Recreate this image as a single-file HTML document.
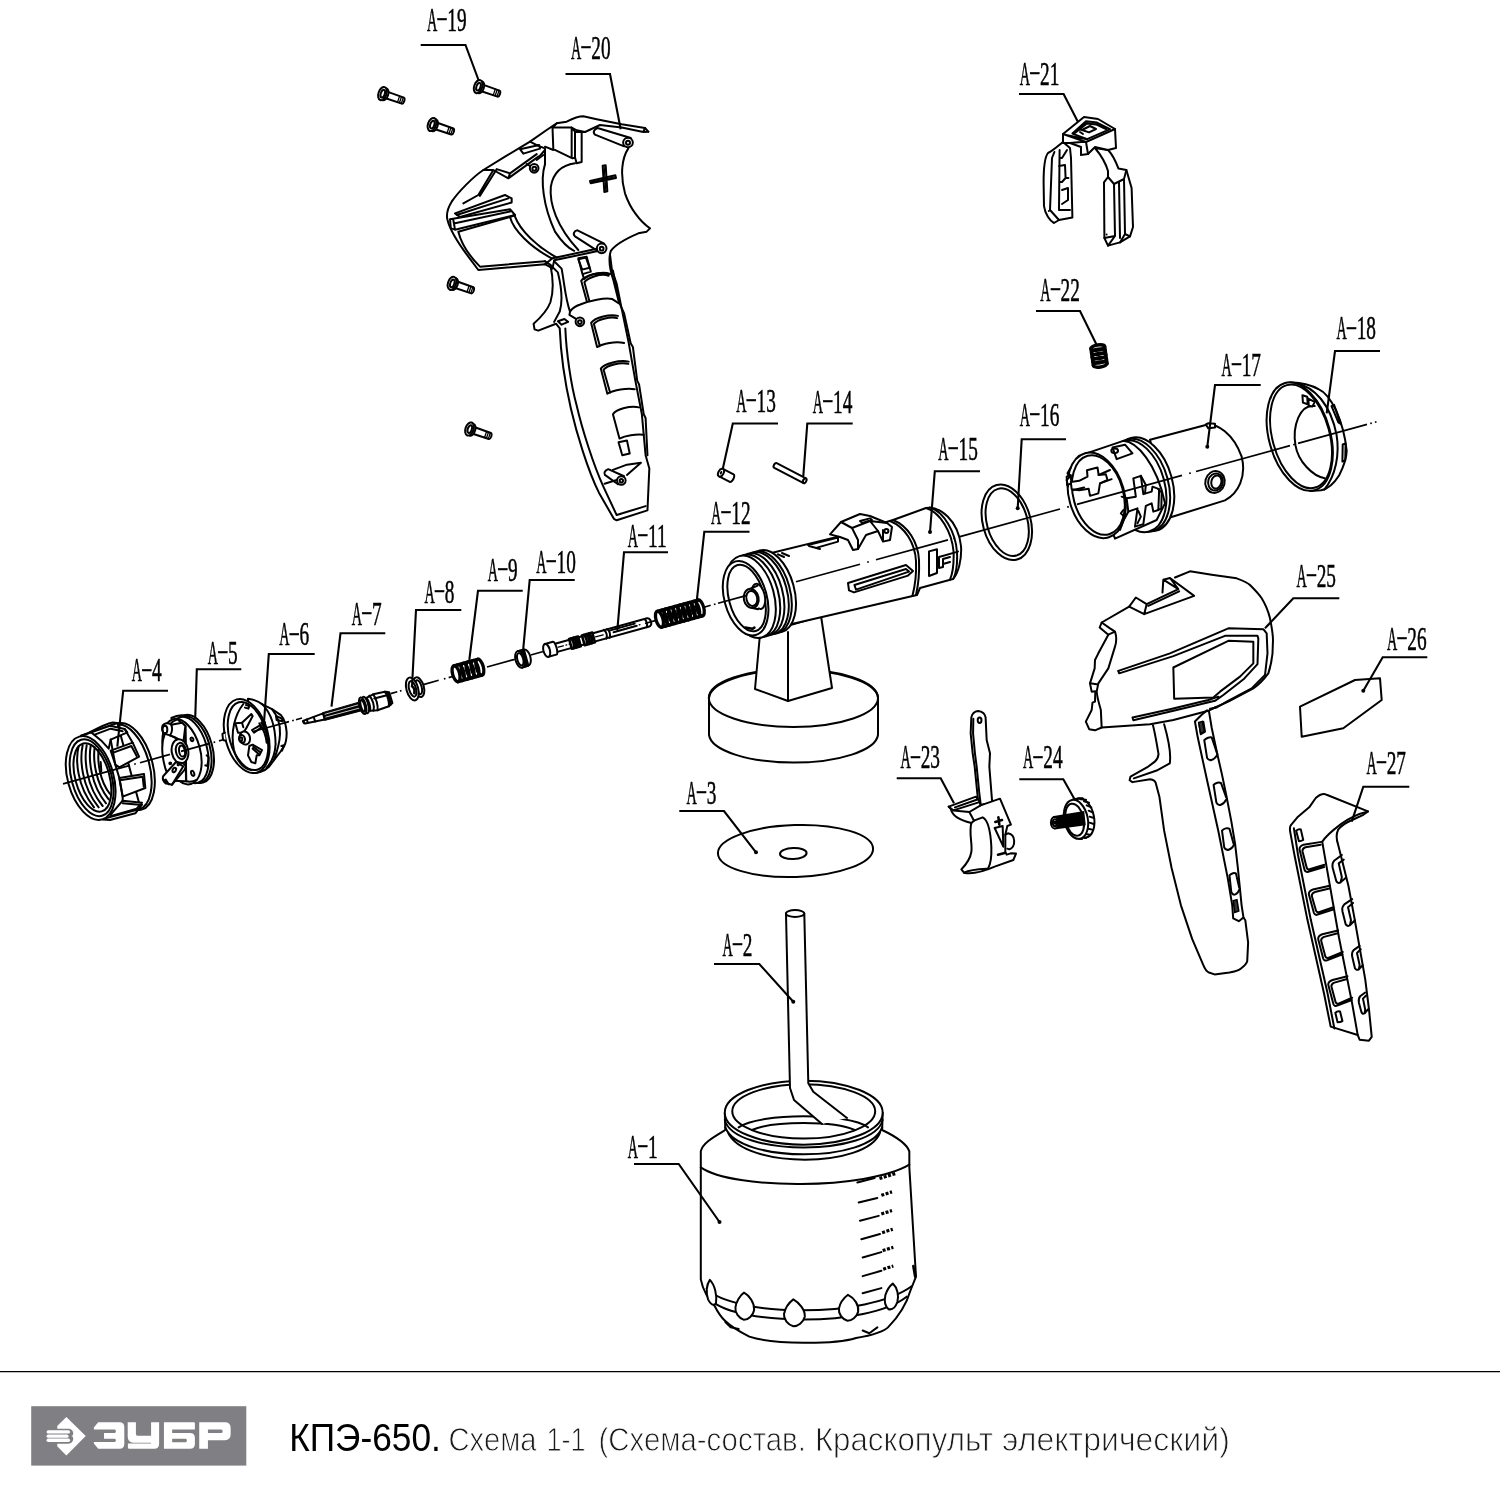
<!DOCTYPE html>
<html><head><meta charset="utf-8"><title>КПЭ-650 Схема 1-1</title>
<style>
html,body{margin:0;padding:0;background:#fff;}
body{width:1500px;height:1500px;overflow:hidden;position:relative;font-family:"Liberation Sans",sans-serif;}
svg{position:absolute;left:0;top:0;display:block;will-change:transform}
.lb{font-family:"Liberation Serif",serif;font-size:33px;fill:#000;stroke:#000;stroke-width:0.55px}
.ld{fill:none;stroke:#000;stroke-width:2.1;stroke-linejoin:miter}
.p{fill:none;stroke:#000;stroke-width:2;stroke-linecap:round;stroke-linejoin:round;vector-effect:non-scaling-stroke}
.pw{fill:#fff;stroke:#000;stroke-width:2;stroke-linecap:round;stroke-linejoin:round;vector-effect:non-scaling-stroke}
.t{fill:none;stroke:#000;stroke-width:1.3;stroke-linecap:round;stroke-linejoin:round;vector-effect:non-scaling-stroke}
.tw{fill:#fff;stroke:#000;stroke-width:1.3;stroke-linecap:round;stroke-linejoin:round;vector-effect:non-scaling-stroke}
.h{fill:none;stroke:#000;stroke-width:2.6;stroke-linecap:round;stroke-linejoin:round;vector-effect:non-scaling-stroke}
.hw{fill:#fff;stroke:#000;stroke-width:2.6;stroke-linecap:round;stroke-linejoin:round;vector-effect:non-scaling-stroke}
.hh{fill:none;stroke:#000;stroke-width:3.3;stroke-linecap:round;stroke-linejoin:round;vector-effect:non-scaling-stroke}
.hhw{fill:#fff;stroke:#000;stroke-width:3.3;stroke-linecap:round;stroke-linejoin:round;vector-effect:non-scaling-stroke}
.ax{fill:none;stroke:#000;stroke-width:1.6;stroke-dasharray:34 4 3 4}
.ft1{font-family:"Liberation Sans",sans-serif;font-size:38.5px;fill:#000}
.ft2{font-family:"Liberation Sans",sans-serif;font-size:34px;fill:#1a1a1a;stroke:#fff;stroke-width:0.9px}
</style></head><body>
<svg width="1500" height="1500" viewBox="0 0 1500 1500">
<rect x="0" y="0" width="1500" height="1500" fill="#fff"/>
<!-- PARTS -->
<!-- 03_02_01.svg -->
<!-- A-3 disc -->
<ellipse class="pw" cx="795.5" cy="851" rx="77.6" ry="26" transform="rotate(-1.8 795.5 851)"/>
<ellipse class="p" cx="793.3" cy="853.5" rx="13.3" ry="5.6" transform="rotate(-1.8 793.3 853.5)"/>
<!-- A-1 jar -->
<g transform="translate(600,1050) scale(0.2666667)">
 <path class="pw" d="M468,235 L470,300 C420,330 385,350 378,380 L378,860 C385,900 410,940 430,960 C450,1000 470,1030 560,1075 C650,1105 880,1105 960,1080 C1030,1070 1070,1050 1080,1040 C1120,1000 1150,950 1165,900 L1185,850 L1160,440 L1160,380 C1150,350 1100,320 1058,300 L1060,235 Z"/>
 <path class="p" d="M378,440 C500,525 1000,525 1160,430"/>
 <!-- threads -->
 <path class="p" d="M468,262 C500,400 1030,400 1060,262 M470,290 C520,425 1010,425 1058,290 M480,310 C540,445 1000,445 1050,310"/>
 <path class="pw" d="M468,235 A296,120 0 0 0 1060,235 A296,120 0 0 0 468,235 Z"/>
 <ellipse class="p" cx="764" cy="230" rx="268" ry="102"/>
 <path class="p" d="M520,290 C600,235 930,235 1005,290 M570,300 C650,265 880,265 955,300"/>
 <!-- bottom bands -->
 <path class="p" d="M400,895 C500,1000 1000,1010 1170,885 M418,940 C520,1032 1000,1042 1150,925"/>
 <path class="p" d="M470,1020 L490,1040 L520,1046 M985,1052 L1010,1062 L1040,1040"/>
 <!-- diamonds -->
 <path class="pw" d="M412,862 C430,880 440,920 435,950 C425,960 415,955 405,935 C398,910 400,880 412,862 Z"/>
 <path class="pw" d="M540,910 C560,920 580,950 578,975 C575,995 555,1012 540,1012 C520,1005 505,985 508,965 C510,945 525,920 540,910 Z"/>
 <path class="pw" d="M725,935 C748,948 770,975 768,1000 C762,1022 742,1036 725,1036 C705,1030 688,1010 690,990 C694,968 708,948 725,935 Z"/>
 <path class="pw" d="M930,918 C955,930 972,958 968,982 C962,1002 945,1015 928,1015 C908,1010 894,990 896,970 C900,948 914,930 930,918 Z"/>
 <path class="pw" d="M1098,876 C1115,892 1122,920 1115,945 C1108,965 1095,975 1082,972 C1070,962 1066,940 1070,920 C1076,900 1086,885 1098,876 Z"/>
 <!-- scale -->
 <path class="p" d="M965,497 L1030,480 M970,572 L1040,555 M975,640 L1045,622 M980,710 L1050,690 M985,778 L1055,758 M985,848 L1055,828 M985,912 L1055,893"/>
 <path d="M1048,482 L1112,462 M1055,545 L1095,532 M1055,615 L1095,602 M1058,685 L1098,672 M1060,752 L1100,740 M1062,822 L1100,810" stroke="#000" stroke-width="3.2" stroke-dasharray="3 1.5" fill="none" vector-effect="non-scaling-stroke"/>
 <path class="h" d="M1175,810 L1182,850"/>
</g>
<!-- A-2 tube -->
<path d="M786,914 L790,1088 L794,1100 L822,1124 L847,1118 L813.3,1091.7 L808.3,1083.3 L804.3,914 Z" fill="#fff"/><path class="p" d="M786,914 L790,1088 L794,1100 L822,1124 M847,1118 L813.3,1091.7 L808.3,1083.3 L804.3,914"/>
<ellipse class="pw" cx="795.1" cy="913.5" rx="9.2" ry="3.4"/>
<!-- 04_nut.svg -->
<g transform="translate(50,690) scale(0.133333)">
 <!-- back rim -->
 <ellipse class="pw" cx="598" cy="574" rx="172" ry="335" transform="rotate(-15.4 598 574)"/>
 <ellipse class="p" cx="580" cy="579" rx="166" ry="328" transform="rotate(-15.4 580 579)"/>
 <!-- body -->
 <path class="pw" d="M232,345 L505,248 L680,890 L395,968 Z" stroke="none"/>
 <path class="p" d="M232,343 L290,322 C330,300 420,250 470,243 L520,250"/>
 <path class="p" d="M395,972 L450,975 L640,925 L690,860"/>
 <!-- front face -->
 <ellipse class="pw" cx="305" cy="660" rx="172" ry="322" transform="rotate(-15.4 305 660)"/>
 <ellipse class="p" cx="312" cy="658" rx="150" ry="296" transform="rotate(-15.4 312 658)"/>
 <ellipse class="p" cx="318" cy="656" rx="128" ry="264" transform="rotate(-15.4 318 656)"/>
 <!-- threads -->
 <path class="p" d="M215,420 C190,520 200,720 330,880"/>
 <path class="p" d="M245,415 C222,520 235,720 365,880"/>
 <path class="p" d="M275,415 C255,520 270,720 395,870"/>
 <path class="p" d="M305,420 C288,520 305,710 420,850"/>
 <path class="p" d="M335,430 C322,520 340,700 440,820"/>
 <path class="p" d="M365,450 C355,530 370,680 450,780"/>
 <path class="p" d="M380,540 L385,610"/>
 <!-- grooves / ribs on side -->
 <path class="pw" d="M310,318 L450,268 L560,292 L580,318 L455,372 L440,440 L390,385 Z"/>
 <path class="p" d="M335,335 L455,290 L545,310"/>
 <path class="pw" d="M455,455 L620,395 L668,500 L520,580 L490,560 Z"/>
 <path class="p" d="M475,470 L610,420 L650,495"/>
 <path class="pw" d="M520,660 L705,630 L715,735 L545,800 Z"/>
 <path class="p" d="M535,675 L695,650 L703,725"/>
 <path class="pw" d="M545,830 L690,845 L650,890 L460,945 L455,935 Z"/>
 <path class="p" d="M545,850 L670,860"/>
 <path class="p" d="M455,372 L490,560 L520,660 L545,800 L545,830"/>
 <path class="p" d="M620,395 L560,292"/>
</g>
<!-- 05_aircap.svg -->
<g transform="translate(150,670) scale(0.133333)">
 <!-- back rim -->
 <ellipse class="pw" cx="328" cy="592" rx="140" ry="262" transform="rotate(-15.4 328 592)"/>
 <ellipse class="p" cx="312" cy="596" rx="138" ry="258" transform="rotate(-15.4 312 596)"/>
 <ellipse class="pw" cx="292" cy="600" rx="136" ry="255" transform="rotate(-15.4 292 600)"/>
 <path class="p" d="M425,640 L440,655 L430,720 L415,715"/>
 <!-- front face -->
 <ellipse class="pw" cx="240" cy="612" rx="136" ry="252" transform="rotate(-15.4 240 612)" stroke="none"/>
 <path class="pw" d="M205,370 C120,400 80,520 95,640 C105,720 130,790 160,830 L270,835 L265,420 Z"/>
 <path class="p" d="M265,420 L272,835"/>
 <path class="p" d="M160,360 C200,340 250,335 290,350"/>
 <path class="p" d="M272,835 C300,840 330,835 350,825"/>
 <!-- top horn -->
 <path class="pw" d="M95,415 C110,395 140,395 160,410 L240,395 L265,420 L250,545 C215,525 180,500 150,490 L110,478 C90,465 85,435 95,415 Z"/>
 <ellipse class="p" cx="112" cy="446" rx="18" ry="28"/>
 <path class="p" d="M160,410 C170,440 165,470 150,490"/>
 <path class="p" d="M150,490 C200,505 235,525 262,560"/>
 <!-- hub -->
 <ellipse class="pw" cx="225" cy="610" rx="62" ry="92" transform="rotate(-10 225 610)"/>
 <ellipse class="p" cx="232" cy="608" rx="38" ry="62" transform="rotate(-10 232 608)"/>
 <ellipse class="p" cx="240" cy="608" rx="22" ry="42" transform="rotate(-10 240 608)"/>
 <!-- bottom horn -->
 <path class="pw" d="M195,690 L250,700 L268,720 L262,745 L165,860 L120,850 C100,840 90,815 100,795 Z"/>
 <path class="p" d="M195,690 L250,722 L165,860"/>
 <path class="p" d="M120,850 L100,820 M140,857 L118,822" />
 <ellipse class="p" cx="182" cy="750" rx="12" ry="18" transform="rotate(30 182 750)"/>
 <circle class="p" cx="212" cy="710" r="5"/>
 <circle class="p" cx="152" cy="700" r="7"/>
 <!-- holes -->
 <ellipse class="p" cx="315" cy="520" rx="10" ry="14" transform="rotate(-20 315 520)"/>
 <ellipse class="p" cx="320" cy="775" rx="11" ry="20" transform="rotate(-20 320 775)"/>
</g>
<!-- 06_ring.svg -->
<g transform="translate(150,670) scale(0.133333)">
 <!-- rear body -->
 <path class="pw" d="M735,215 C790,222 820,240 843,258 L915,294 L982,339 C1005,365 1020,400 1025,470 C1025,520 1015,555 1005,573 L978,613 L892,726 C860,760 800,778 770,772 Z"/>
 <path class="p" d="M843,258 C905,320 940,430 942,555 C938,640 905,700 874,732"/>
 <path class="p" d="M915,294 C960,350 978,420 975,480 C972,560 950,620 930,672"/>
 <path class="p" d="M945,345 L990,365 L995,385 L950,375 Z"/>
 <path class="p" d="M985,570 L1005,565 L990,605"/>
 <!-- front ring -->
 <ellipse class="pw" cx="725" cy="495" rx="160" ry="285" transform="rotate(-15.4 725 495)"/>
 <ellipse class="p" cx="735" cy="495" rx="140" ry="262" transform="rotate(-15.4 735 495)"/>
 <path class="p" d="M700,255 C640,330 600,460 630,600 C650,680 700,740 760,750"/>
 <path class="p" d="M720,262 L745,270 L738,290 L712,282"/>
 <!-- tab left -->
 <path class="pw" d="M562,470 L543,480 L548,525 L568,530"/>
 <!-- vanes -->
 <path class="pw" d="M640,400 L690,395 L760,330 L770,345 L720,440 L700,470 L660,470 Z"/>
 <path class="p" d="M690,395 L700,430"/>
 <path class="pw" d="M765,450 L825,415 L835,430 L780,470 Z"/>
 <path class="pw" d="M745,570 L770,560 L840,600 L820,640 L800,640 L790,700 L760,690 L735,640 Z"/>
 <path class="p" d="M775,575 L825,615 M770,590 L815,630"/>
 <!-- inner arc right -->
 <path class="p" d="M820,400 C850,440 870,500 875,545 L890,535"/>
 <path class="p" d="M835,395 C865,440 885,500 888,540"/>
 <!-- hub -->
 <ellipse class="pw" cx="712" cy="510" rx="38" ry="50" transform="rotate(-15 712 510)"/>
 <ellipse class="pw" cx="690" cy="517" rx="22" ry="30" transform="rotate(-15 690 517)"/>
 <ellipse class="p" cx="682" cy="519" rx="10" ry="15" fill="#111"/>
</g>
<!-- 07_nozzle.svg -->
<g transform="translate(280,620) scale(0.133333)">
 <g transform="translate(175,766) rotate(-15.4)">
  <!-- tip -->
  <path class="pw" d="M0,-10 L160,-24 L160,24 L10,14 C0,12 -3,-5 0,-10 Z"/>
  <path class="p" d="M30,-12 L32,15 M85,-17 L87,19"/>
  <ellipse cx="6" cy="2" rx="7" ry="11" fill="#000"/>
  <!-- dark shaft -->
  <path d="M158,-30 L455,-34 L455,34 L158,30 Z" fill="#000" stroke="#000" stroke-width="1" vector-effect="non-scaling-stroke"/>
  <path d="M170,-14 L450,-16 M170,8 L450,10" stroke="#fff" stroke-width="0.8" fill="none" vector-effect="non-scaling-stroke"/>
  <!-- flange -->
  <ellipse class="pw" cx="482" cy="0" rx="24" ry="64"/>
  <ellipse class="pw" cx="462" cy="0" rx="24" ry="64"/>
  <ellipse class="p" cx="462" cy="0" rx="14" ry="46"/>
  <!-- nut -->
  <path class="pw" d="M505,-50 L560,-62 L650,-58 L680,-46 L682,40 L650,56 L560,62 L505,50 Z"/>
  <path class="p" d="M530,-60 C548,-30 548,30 530,58 M560,-62 C575,-30 575,30 560,62"/>
  <path class="p" d="M505,-50 C518,-25 518,25 505,50"/>
  <path class="p" d="M650,-58 C662,-30 662,30 650,56 M665,-52 C675,-25 675,25 665,48"/>
  <path class="p" d="M560,-30 L650,-28"/>
 </g>
</g>
<!-- 08_washer.svg -->
<g transform="translate(280,620) scale(0.133333)">
 <g transform="translate(1000,515) rotate(-15.4)">
  <ellipse class="pw" cx="42" cy="0" rx="38" ry="76"/>
  <ellipse class="p" cx="42" cy="0" rx="22" ry="54"/>
  <ellipse class="pw" cx="-8" cy="0" rx="44" ry="88"/>
  <ellipse class="p" cx="-6" cy="0" rx="26" ry="60"/>
  <path d="M-5,-20 C8,-5 8,15 -2,35" class="h"/>
 </g>
</g>
<!-- 09_spring.svg -->
<g transform="translate(440,560) scale(0.133333)">
 <g transform="translate(212,828) rotate(-15.4)">
  <path class="pw" d="M-100,-62 L100,-62 L100,62 L-100,62 Z" stroke="none"/>
  <ellipse class="hhw" cx="90" cy="0" rx="26" ry="62"/>
  <ellipse class="hh" cx="52" cy="0" rx="26" ry="62"/>
  <ellipse class="hh" cx="14" cy="0" rx="26" ry="62"/>
  <ellipse class="hh" cx="-24" cy="0" rx="26" ry="62"/>
  <ellipse class="hh" cx="-62" cy="0" rx="26" ry="62"/>
  <ellipse class="hhw" cx="-95" cy="0" rx="26" ry="62"/>
  <path class="hh" d="M-95,-62 L90,-62 M-95,62 L90,62"/>
 </g>
</g>
<!-- 10_bushing.svg -->
<g transform="translate(440,560) scale(0.133333)">
 <g transform="translate(600,745) rotate(-15.4)">
  <ellipse class="pw" cx="48" cy="0" rx="32" ry="62"/>
  <path class="pw" d="M0,-64 L48,-62 L48,62 L0,64 Z" stroke="none"/>
  <path class="p" d="M0,-64 L48,-62 M0,64 L48,62"/>
  <ellipse class="pw" cx="0" cy="0" rx="34" ry="64"/>
  <ellipse class="p" cx="2" cy="0" rx="22" ry="48"/>
  <path class="p" d="M30,-60 C45,-30 45,30 30,60"/>
 </g>
</g>
<!-- 11_rod.svg -->
<g transform="translate(440,560) scale(0.133333)">
 <g transform="translate(800,678) rotate(-15.4)">
  <!-- rod -->
  <path class="pw" d="M60,-32 L790,-32 C800,-32 812,-20 812,0 C812,20 800,32 790,32 L60,32 Z"/>
  <!-- head -->
  <path class="pw" d="M0,-50 L62,-50 C82,-50 82,50 62,50 L0,50 Z"/>
  <ellipse class="pw" cx="0" cy="0" rx="24" ry="50"/>
  <!-- rings -->
  <path class="hw" d="M185,-38 L255,-38 L255,38 L185,38 Z"/>
  <path class="h" d="M200,-38 C212,-15 212,15 200,38 M220,-38 C232,-15 232,15 220,38 M240,-38 C252,-15 252,15 240,38"/>
  <path class="hw" d="M285,-38 L365,-38 L365,38 L285,38 Z"/>
  <path class="h" d="M300,-38 C312,-15 312,15 300,38 M320,-38 C332,-15 332,15 320,38 M340,-38 C352,-15 352,15 340,38"/>
  <!-- sleeve -->
  <path class="p" d="M455,-34 C470,-15 470,15 455,34 M480,-34 C495,-15 495,15 480,34"/>
  <path class="p" d="M500,-18 L690,-18 M520,2 L700,2"/>
  <path class="p" d="M770,-32 C782,-15 782,15 770,32"/>
  <!-- inner centerline -->
  <path class="t" d="M90,0 L130,0 M150,0 L156,0 M175,0 L185,0 M380,0 L440,0 M560,0 L690,0 M720,0 L726,0" />
 </g>
</g>
<!-- 12_spring.svg -->
<g transform="translate(560,540) scale(0.133333)">
 <g transform="translate(900,552) rotate(-15.4)">
  <path class="pw" d="M-160,-62 L160,-62 L160,62 L-160,62 Z" stroke="none"/>
  <ellipse class="hhw" cx="158" cy="0" rx="26" ry="62"/>
  <ellipse class="hh" cx="122" cy="0" rx="26" ry="62"/>
  <ellipse class="hh" cx="86" cy="0" rx="26" ry="62"/>
  <ellipse class="hh" cx="50" cy="0" rx="26" ry="62"/>
  <ellipse class="hh" cx="14" cy="0" rx="26" ry="62"/>
  <ellipse class="hh" cx="-22" cy="0" rx="26" ry="62"/>
  <ellipse class="hh" cx="-58" cy="0" rx="26" ry="62"/>
  <ellipse class="hh" cx="-94" cy="0" rx="26" ry="62"/>
  <ellipse class="hh" cx="-130" cy="0" rx="26" ry="62"/>
  <ellipse class="hhw" cx="-160" cy="0" rx="26" ry="62"/>
  <path class="hh" d="M-160,-62 L158,-62 M-160,62 L158,62"/>
 </g>
</g>
<!-- 13_14_22.svg -->
<!-- A-13 -->
<g transform="translate(721,472.7) rotate(27)">
 <path class="pw" d="M0,-4.2 L12,-4.2 C14.5,-4.2 14.5,4.2 12,4.2 L0,4.2 Z"/>
 <ellipse class="pw" cx="0" cy="0" rx="2.6" ry="4.2"/>
 <ellipse cx="0" cy="0" rx="1" ry="1.8" fill="#000"/>
</g>
<!-- A-14 -->
<g transform="translate(775.5,465.5) rotate(27.5)">
 <path class="pw" d="M0,-2.6 L33,-2.6 C35,-2.6 35,2.6 33,2.6 L0,2.6 C-2.2,2.6 -2.2,-2.6 0,-2.6 Z"/>
 <path class="p" d="M32.5,-2.6 C31,-1 31,1 32.5,2.6"/>
</g>
<!-- A-22 -->
<g transform="translate(1099,356) rotate(-8)">
 <rect x="-7" y="-10.5" width="14" height="21" fill="#fff"/>
 <ellipse class="hh" cx="0" cy="-8.5" rx="7" ry="2.6"/>
 <ellipse class="hh" cx="0" cy="-4.3" rx="7" ry="2.6"/>
 <ellipse class="hh" cx="0" cy="0" rx="7" ry="2.6"/>
 <ellipse class="hh" cx="0" cy="4.3" rx="7" ry="2.6"/>
 <ellipse class="hh" cx="0" cy="8.5" rx="7" ry="2.6"/>
 <path class="hh" d="M-7,-8.5 L-7,8.5 M7,-8.5 L7,8.5"/>
</g>
<!-- 15_body.svg -->
<g transform="translate(700,480) scale(0.2)">
 <!-- base disc -->
 <path class="pw" d="M45,1090 L45,1275 A423,145 0 0 0 890,1275 L890,1085 A423,145 0 0 0 45,1090 Z"/>
 <ellipse class="p" cx="467" cy="1090" rx="423" ry="145"/>
 <!-- neck -->
 <path class="pw" d="M300,770 L275,1045 L440,1105 L660,1040 L605,680 Z"/>
 <path class="p" d="M440,760 L440,1105"/>
 <!-- main body -->
 <path class="pw" d="M352,366 L690,283 L965,200 L1130,140 C1200,130 1290,200 1305,330 C1310,400 1290,470 1265,495 L1100,540 L1085,575 L465,719 L420,700 Z"/>
 <!-- end rings right -->
 <path class="p" d="M1130,140 C1200,160 1260,260 1268,360 C1270,420 1262,470 1250,498"/>
 <path class="p" d="M1150,137 C1220,160 1278,260 1285,360 C1288,420 1280,465 1268,492"/>
 <!-- collar start arc -->
 <path class="p" d="M965,200 C1040,230 1090,310 1095,400 C1098,470 1088,540 1080,575"/>
 <path class="p" d="M950,205 C1025,235 1075,315 1080,405 C1083,470 1075,530 1062,580"/>
 <!-- collar details -->
 <path class="p" d="M1145,357 L1185,346 L1185,465 L1145,480 Z"/>
 <path class="p" d="M1195,385 L1290,358 M1195,385 L1195,440 L1215,435 L1215,395 L1250,385 M1215,420 L1250,410"/>
 <!-- side slot -->
 <path class="p" d="M740,515 L1030,425 L1065,455 L1040,478 L770,562 L745,552 Z"/>
 <path class="p" d="M772,525 L1030,445 L1045,458 L780,548 Z"/>
 <!-- top-left slot -->
 <path class="p" d="M540,325 L690,288 L690,308 L585,338 M545,330 L600,345"/>
 <path class="p" d="M390,372 L420,385 M410,365 L445,380"/>
 <!-- bracket -->
 <path class="pw" d="M650,272 L705,210 L800,170 L850,180 L935,215 L960,235 L950,300 L915,308 L890,255 L830,275 L790,345 L765,350 L740,300 L700,285 Z"/>
 <path class="p" d="M705,210 L760,240 L790,300 L790,345 M760,240 L850,205 L935,215 M850,205 L890,255"/>
 <path class="p" d="M800,205 L850,192 L860,200 L812,215 Z"/>
 <circle class="p" cx="932" cy="255" r="10"/>
 <path class="p" d="M915,250 L915,305"/>
 <!-- thread rings -->
 <ellipse class="pw" cx="354" cy="556" rx="117" ry="211" transform="rotate(-15.4 354 556)"/>
 <ellipse class="pw" cx="333" cy="562" rx="117" ry="211" transform="rotate(-15.4 333 562)"/>
 <ellipse class="pw" cx="318" cy="566" rx="117" ry="211" transform="rotate(-15.4 318 566)"/>
 <ellipse class="pw" cx="296" cy="572" rx="117" ry="211" transform="rotate(-15.4 296 572)"/>
 <ellipse class="pw" cx="275" cy="578" rx="117" ry="211" transform="rotate(-15.4 275 578)"/>
 <ellipse class="pw" cx="253" cy="584" rx="117" ry="211" transform="rotate(-15.4 253 584)"/>
 <!-- front lip -->
 <ellipse class="pw" cx="228" cy="591" rx="106" ry="191" transform="rotate(-15.4 228 591)"/>
 <ellipse class="p" cx="233" cy="590" rx="88" ry="171" transform="rotate(-15.4 233 590)"/>
 <path class="h" d="M226,738 L262,744 L272,738"/>
 <!-- nozzle -->
 <ellipse class="pw" cx="292" cy="582" rx="32" ry="64" transform="rotate(-12 292 582)"/>
 <path d="M257,540 L292,527 L292,640 L262,643 Z" fill="#fff"/>
 <path class="p" d="M250,545 L288,528 M262,640 L290,646"/>
 <ellipse class="pw" cx="256" cy="592" rx="37" ry="48" transform="rotate(-12 256 592)"/>
 <ellipse class="p" cx="259" cy="592" rx="27" ry="38" transform="rotate(-12 259 592)"/>
</g>
<!-- 16_oring.svg -->
<ellipse class="p" cx="1006.8" cy="522.3" rx="23.9" ry="38.6" transform="rotate(-15.4 1006.8 522.3)"/>
<ellipse class="p" cx="1007.2" cy="522.2" rx="20.3" ry="34.6" transform="rotate(-15.4 1007.2 522.2)"/>
<!-- 17_housing.svg -->
<g transform="translate(1050,370) scale(0.1666667)">
 <!-- rear cylinder -->
 <path class="pw" d="M600,418 L940,328 C1000,318 1100,380 1150,520 C1180,640 1130,740 1050,782 L720,885 Z"/>
 <path class="pw" d="M935,327 L948,320 L990,322 L990,345 L950,350 Z"/>
 <ellipse class="p" cx="990" cy="672" rx="58" ry="66" transform="rotate(15 990 672)"/>
 <ellipse class="p" cx="993" cy="672" rx="44" ry="52" transform="rotate(15 993 672)"/>
 <ellipse class="p" cx="998" cy="672" rx="30" ry="40" transform="rotate(15 998 672)"/>
 <!-- flange rings -->
 <ellipse class="pw" cx="562" cy="686" rx="173" ry="288" transform="rotate(-15.4 562 686)"/>
 <ellipse class="pw" cx="540" cy="692" rx="170" ry="285" transform="rotate(-15.4 540 692)"/>
 <ellipse class="pw" cx="520" cy="697" rx="168" ry="282" transform="rotate(-15.4 520 697)"/>
 <!-- front section -->
 <path class="pw" d="M205,505 L440,425 C520,430 640,560 690,800 L640,900 L390,1012 Z"/>
 <path class="p" d="M375,465 L450,448 L495,500 L400,535 Z"/>
 <ellipse class="p" cx="388" cy="485" rx="20" ry="14"/>
 <!-- front opening -->
 <ellipse class="pw" cx="280" cy="752" rx="166" ry="262" transform="rotate(-15.4 280 752)"/>
 <ellipse class="p" cx="290" cy="750" rx="150" ry="244" transform="rotate(-15.4 290 750)"/>
 <path class="pw" d="M100,640 L125,630 L128,680 L103,690 Z" stroke="none"/>
 <path class="p" d="M125,585 L105,620 L120,640 L100,660 L108,700"/>
 <!-- left cross -->
 <path class="pw" d="M125,672 L175,665 L225,640 L222,602 L285,585 L292,630 L335,625 L345,660 L300,680 L290,740 L240,755 L232,712 L175,722 L130,715 Z"/>
 <path class="p" d="M140,720 L205,705 M292,630 L360,600 M300,680 L370,655"/>
 <!-- right cross -->
 <path class="pw" d="M500,650 L545,635 L560,745 L610,730 L615,700 L655,715 L650,840 L620,850 L610,800 L575,815 L560,925 L510,940 L525,830 L470,850 L460,770 L515,760 Z"/>
 <path class="p" d="M545,635 L575,690 L570,740 M470,850 L440,905 L420,960 M460,770 L430,760 M440,840 L425,860 L445,880"/>
 <path class="p" d="M650,715 L670,735 L668,830 L650,840"/>
 <path class="p" d="M530,845 L545,880 L525,920"/>
</g>
<!-- 18_ring.svg -->
<g transform="translate(1240,360) scale(0.1066667)">
 <!-- back rim -->
 <path class="pw" d="M470,212 C560,205 680,240 740,275 C800,300 860,390 900,470 C940,560 985,700 1000,850 C1000,900 985,970 930,1080 C880,1160 820,1210 760,1222 L660,1228 Z"/>
 <path class="p" d="M520,215 C700,250 850,420 905,700 C935,880 900,1080 790,1215"/>
 <path class="p" d="M858,432 L882,420 L945,600 L922,585 Z"/>
 <path class="p" d="M963,792 L990,782 L987,940 L960,952 Z"/>
 <!-- front -->
 <ellipse class="pw" cx="560" cy="718" rx="288" ry="521" transform="rotate(-15.4 560 718)"/>
 <ellipse class="p" cx="572" cy="716" rx="268" ry="498" transform="rotate(-15.4 572 716)"/>
 <!-- inner hole arc -->
 <path class="p" d="M700,432 C560,410 490,620 520,800 C545,950 680,1090 795,1108"/>
 <!-- tab -->
 <path class="pw" d="M585,330 L630,345 L635,415 L590,400 Z"/>
 <path class="pw" d="M640,362 L700,392 L680,435 L645,428 Z"/>
</g>
<!-- 19_screws.svg -->
<defs>
 <g id="scr">
  <path class="pw" d="M3,-3.4 L21.5,-3.2 C23.5,-3.2 23.5,3.2 21.5,3.2 L3,3.4 Z"/>
  <path class="t" d="M17,-3.2 L17,3.2 M19,-3.2 L19,3.2 M21,-3.2 L21,3.2"/>
  <ellipse class="pw" cx="2.2" cy="0" rx="3.6" ry="6.2"/>
  <ellipse class="pw" cx="0" cy="0" rx="4" ry="6.8"/>
  <ellipse class="p" cx="0.3" cy="0" rx="2" ry="4"/>
 </g>
</defs>
<use href="#scr" transform="translate(478.2,86.6) rotate(19)"/>
<use href="#scr" transform="translate(382.5,93.6) rotate(19)"/>
<use href="#scr" transform="translate(432,124.5) rotate(19)"/>
<use href="#scr" transform="translate(452,283.3) rotate(19)"/>
<use href="#scr" transform="translate(469.5,429) rotate(19)"/>
<!-- 20_shell.svg -->
<g transform="translate(430,100) scale(0.1666667)">
 <!-- outer silhouette top -->
 <path class="p" d="M1310,190 L1290,168 L1150,145 L1000,115 L920,98 C890,98 850,115 820,130 L760,140 L700,180 L600,250 L450,340 L320,420 C260,460 170,550 130,610 C105,650 95,680 105,720 C120,780 170,860 230,940 L290,1020 L690,985 L735,1010"/>
 <path class="p" d="M1310,190 L1280,192 L1290,168 M1280,192 L1150,165 L1020,150 L930,192 L880,182 L850,165 L735,165 L760,140"/>
 <!-- right edge -->
 <path class="p" d="M1190,290 C1150,350 1140,450 1170,560 C1200,650 1260,730 1320,770 L1300,790 L1250,800 C1180,830 1110,870 1085,905 C1070,950 1080,1020 1100,1080 L1130,1200"/>
 <!-- upper box -->
 <path class="p" d="M735,165 L740,295 L855,350 L870,345 L870,190 L850,165 L850,340 M910,200 L910,372 L880,380 L870,345 M870,190 L930,192 M690,280 L740,300"/>
 <!-- top-right boss -->
 <path class="pw" d="M1005,168 C985,175 975,195 990,208 L1165,278 L1205,228 Z"/>
 <circle class="pw" cx="1188" cy="255" r="29"/>
 <circle class="p" cx="1188" cy="257" r="12"/>
 <!-- mid-left boss -->
 <path class="p" d="M600,250 L650,275 L690,290 L690,385 M540,295 L655,270 L660,292 L560,322 Z M655,340 L690,300"/>
 <circle class="pw" cx="625" cy="410" r="26"/>
 <circle class="p" cx="626" cy="412" r="12"/>
 <path class="p" d="M580,385 L600,395 M640,360 L680,330"/>
 <!-- top-left notch -->
 <path class="p" d="M380,420 L470,470 L650,340 M470,470 L480,440 L400,415 M480,440 L640,325 M320,420 L380,420 L290,570 L200,620 M400,415 L300,575"/>
 <!-- cross -->
 <path class="p" d="M1036,395 L1046,552 L1064,548 L1054,392 Z M960,486 L1112,452 L1116,468 L964,500 Z"/><path class="t" d="M1045,400 L1055,545 M968,492 L1108,461"/>
 <!-- cavity arcs -->
 <path class="p" d="M870,380 C800,390 740,430 725,520 C715,620 760,760 890,900"/>
 <path class="p" d="M690,385 C660,480 680,640 750,790 C790,850 830,890 865,905"/>
 <!-- bottom boss -->
 <path class="pw" d="M885,782 C865,785 855,805 870,818 L1005,905 L1045,862 Z"/>
 <circle class="pw" cx="1030" cy="890" r="29"/>
 <circle class="p" cx="1030" cy="892" r="11"/>
 <path class="p" d="M735,950 L1000,893 M745,962 L1000,908 M690,985 L735,950 M735,1010 L745,962"/>
 <!-- ribs -->
 <path class="p" d="M150,680 L450,570 L490,590 L490,615 L180,702 Z M160,690 L470,590"/>
 <path class="p" d="M120,715 L480,655 L510,690 L150,778 L125,770 Z M150,740 L485,668 M150,778 L140,720"/>
 <!-- lower panel -->
 <path class="p" d="M170,790 L480,702 C500,780 600,880 730,950 M170,790 C190,870 250,950 300,1000 L690,968 M510,700 C540,780 640,880 760,945 M480,702 L510,690"/>
 <!-- small rect and band start -->
 <path class="p" d="M890,950 L940,940 L965,1030 L915,1045 Z M915,1045 L925,1075 C960,1040 1040,1030 1075,1045"/>
</g>
<g transform="translate(500,250) scale(0.1866667)">
 <!-- handle left edge -->
 <path class="p" d="M240,60 L270,80 C285,150 285,230 270,280 C255,320 220,360 180,395 L185,425 L205,432 L300,395 L320,420 C325,550 350,720 380,850 C410,980 470,1180 530,1300 L610,1440 L625,1448 L790,1395 L800,1170 L780,1100 L760,880 L725,700 L690,500 L655,330 L625,180 L600,110 L590,30"/>
 <path class="p" d="M290,60 L330,100 C345,180 350,260 375,330 M270,80 L310,120 C330,200 335,280 320,330 L290,385 M350,420 C355,550 380,720 410,830 C440,960 500,1150 555,1270 L625,1420 L780,1372"/>
 <path class="p" d="M310,382 L345,370 L365,385 L330,400 Z"/>
 <!-- band -->
 <path class="p" d="M375,330 C385,315 410,298 430,292 C480,270 560,255 600,262 L635,285 M375,330 L372,348 L405,368"/>
 <circle class="pw" cx="428" cy="385" r="23"/>
 <circle class="p" cx="428" cy="386" r="10"/>
 <!-- slots -->
 <path class="p" d="M420,50 L460,40 L480,95 L440,105 Z"/>
 <path class="p" d="M465,275 L435,165 C450,140 540,108 590,128 M478,270 L452,172 C470,150 540,122 582,138"/>
 <path class="p" d="M520,520 L488,390 C510,360 590,342 632,353 M535,515 L503,396 C520,372 590,356 628,365 M520,520 C550,500 620,488 665,498"/>
 <path class="p" d="M575,770 L540,635 C560,608 640,588 690,598 M590,765 L555,641 C575,618 640,600 688,610 M575,770 C610,750 680,738 722,746"/>
 <path class="p" d="M640,1010 L605,880 C625,850 700,833 745,843 M640,1010 C670,995 730,984 770,990"/>
 <path class="p" d="M635,1030 L680,1020 L695,1090 L655,1100 Z"/>
 <!-- right inner wavy edge -->
 <path class="p" d="M605,110 L640,285 L665,340 L700,500 L712,520 L735,700 L745,720 L770,880 L780,900 L790,1100"/>
 <!-- bottom boss -->
 <path class="pw" d="M580,1174 C562,1180 555,1195 562,1205 L632,1255 L665,1212 Z"/>
 <circle class="pw" cx="650" cy="1235" r="23"/>
 <circle class="p" cx="650" cy="1236" r="9"/>
 <path class="p" d="M605,1178 L680,1150 L755,1140 L680,1205 M560,1252 L625,1232"/>
</g>
<!-- 21_clip.svg -->
<g transform="translate(950,30) scale(0.2)">
 <!-- left arm -->
 <path class="pw" d="M565,560 C540,580 520,600 490,615 C470,640 468,700 468,760 L470,880 C475,920 500,955 520,965 L545,950 L612,938 L605,640 L600,590 Z"/>
 <path class="p" d="M522,610 L510,640 L500,900 L545,950 M548,600 L545,900 L600,900 M545,680 L575,675 L578,740 L592,740 M578,740 L560,760 L548,760 M560,800 L590,790 L590,850 L560,870 M585,600 L560,640 L548,640"/>
 <circle cx="494" cy="905" r="5" fill="#000"/>
 <!-- right arm -->
 <path class="pw" d="M725,590 C750,620 780,670 790,705 L790,735 L770,762 L772,1040 L790,1078 L850,1062 L900,1032 L915,985 L908,790 L882,700 L842,692 C830,660 810,620 790,600 Z"/>
 <path class="p" d="M790,735 L820,770 L825,1030 L790,1078 M820,770 L870,745 L882,700 M870,745 L875,1020 L850,1062 M845,760 L850,1040 M772,1040 L825,1030 M875,1020 L900,1032"/>
 <circle cx="783" cy="1022" r="5" fill="#000"/>
 <!-- top block -->
 <path class="pw" d="M565,520 L670,435 L740,445 L825,495 L830,590 L790,600 L725,585 L690,620 L655,625 L655,585 L600,565 L565,565 Z"/>
 <path class="p" d="M565,520 L680,560 L825,495 M680,560 L690,620 M580,525 L680,545 M600,565 L655,560 L680,560"/>
 <path class="p" d="M612,518 L680,456 L735,463 L800,496 L686,546 Z M625,515 L683,468 L730,472 L780,496"/>
 <path class="p" d="M660,500 L700,480 L730,495 L695,512 Z M650,510 L665,520 M640,495 L660,500"/>
</g>
<!-- 23_24.svg -->
<g transform="translate(920,700) scale(0.1333333)">
 <!-- A-23 lever -->
 <path class="pw" d="M440,790 L430,700 L410,500 L395,400 L380,250 L385,130 C390,105 410,85 435,82 C465,85 488,105 492,130 L500,300 L525,400 L520,500 L540,750 L545,770 Z"/>
 <path class="p" d="M400,140 L398,250 L412,400 L425,500 L445,700 L455,780"/>
 <ellipse class="p" cx="447" cy="152" rx="14" ry="20"/>
 <!-- platform -->
 <path class="pw" d="M215,800 L420,725 L445,760 L455,790 L600,740 L682,935 L655,945 L640,1010 L640,1140 L650,1160 L680,1150 L720,1152 L700,1200 L560,1250 C480,1285 400,1310 330,1295 L310,1270 C340,1240 375,1200 385,1140 C395,1080 365,1000 385,922 C290,900 245,870 230,815 Z"/>
 <path class="p" d="M215,800 L250,828 L440,768 M262,805 L425,748 M250,828 L370,840 L455,790 M370,840 L405,905"/>
 <path class="p" d="M405,905 L470,880 C510,900 530,1000 535,1100 C538,1180 530,1230 510,1265 M330,1295 C380,1270 450,1268 510,1265 M385,922 L405,905"/>
 <path class="p" d="M640,1010 L660,1000 C720,1010 720,1100 670,1120 L655,1115"/>
 <path class="h" d="M565,915 L615,900 M588,880 L595,935 M585,1160 L635,1148"/>
 <path class="p" d="M560,960 L620,945 L625,1100 Z"/>
 <!-- A-24 knob -->
 <ellipse class="pw" cx="1215" cy="885" rx="90" ry="150" transform="rotate(-12 1215 885)"/>
 <path class="p" d="M1150,745 L1195,738 M1175,742 L1220,737 M1205,745 L1245,748 M1230,760 L1268,770 M1250,790 L1285,805 M1265,830 L1298,845 M1272,875 L1305,885 M1272,920 L1303,930 M1262,965 L1292,972 M1245,1005 L1272,1010 M1220,1030 L1245,1035 M1190,1040 L1215,1042"/>
 <ellipse class="pw" cx="1170" cy="895" rx="88" ry="148" transform="rotate(-12 1170 895)"/>
 <ellipse class="p" cx="1160" cy="898" rx="68" ry="122" transform="rotate(-12 1160 898)"/>
 <path d="M1005,878 L1225,842 L1235,932 L1015,962 Z" fill="#000" stroke="#000" stroke-width="2" vector-effect="non-scaling-stroke"/>
 <ellipse class="pw" cx="1010" cy="920" rx="28" ry="43"/>
 <ellipse class="p" cx="1012" cy="920" rx="16" ry="26"/>
 <circle cx="1014" cy="921" r="7" class="p"/>
</g>
<!-- 25_shell.svg -->
<g transform="translate(1070,560) scale(0.1666667)">
 <path class="p" d="M630,105 L720,68 L850,88 L1000,110 C1040,125 1070,140 1080,150 C1110,180 1135,205 1150,230 C1175,270 1190,310 1200,350 C1210,400 1218,440 1218,480 L1215,560 C1210,610 1200,650 1190,680 C1160,720 1130,750 1100,770 L950,850 L870,885"/>
 <!-- top notch -->
 <path class="p" d="M355,280 L395,225 L460,265 L650,175 L560,118 L555,195 M560,118 L600,108 L745,215 L445,325 L355,280 M460,265 L445,325 M600,108 L650,175 M470,275 L655,188"/>
 <!-- front edge -->
 <path class="p" d="M355,280 L190,375 L178,405 L230,448 L170,560 L150,600 L148,650 L120,740 L130,790 L152,788 L150,850 L135,856 L130,900 L95,970 L115,1015 L150,1022 L190,1005 L480,985 L620,960 L830,905 L870,885"/>
 <path class="p" d="M190,375 L240,410 L270,430 C280,460 280,490 270,520 L230,650 L170,740 L160,790 C165,840 180,880 185,900 L190,1005 M230,448 L270,430 M120,740 L160,745"/>
 <!-- grooves -->
 <path class="p" d="M290,665 L600,560 L880,440 L950,410 L1160,415 L1180,440 L1185,560 L1170,690 L1090,770 L940,850 L880,885 L840,893"/>
 <path class="p" d="M290,665 L295,680 L620,577 L930,455 L1125,455 L1130,470 L1125,625 L1045,712 L920,810 L870,845 L640,900 L380,962 L375,945 L600,895 L830,840 L890,820"/>
 <!-- window -->
 <path class="p" d="M620,645 L950,485 L1100,490 L1100,620 L1020,700 L900,790 L860,825 L625,832 Z"/>
 <!-- handle start -->
 <path class="p" d="M775,980 L800,970 L810,1030 L785,1045 Z M782,985 L795,1040 M790,975 L803,1035"/>
</g>
<g transform="translate(1110,700) scale(0.1866667)">
 <path class="p" d="M230,135 C240,170 250,230 260,290 C258,310 250,322 240,330 L200,360 L110,410 L105,430 L120,440 L215,425 C235,428 242,435 245,445 L265,520 L290,700 L330,900 L380,1100 L440,1280 L500,1420 C510,1445 520,1455 530,1460 L560,1470 L640,1460 C670,1455 690,1448 700,1440 C720,1425 732,1412 735,1400 L740,1300 L725,1180 L715,1165"/>
 <path class="p" d="M290,130 C310,200 330,280 320,340 L250,378 L128,420"/>
 <path class="p" d="M520,55 L490,80 L455,115 L470,200 L520,430 L580,700 L630,950 L655,1100 L660,1170 L690,1185 L715,1165 L705,1100 L695,1000 L685,900 L670,770 L650,650 L625,520 L600,400 L575,290 L545,150 L530,60"/>
 <path d="M475,120 L495,115 L505,170 L485,178 Z M660,1075 L680,1070 L690,1130 L668,1138 Z" fill="#333" stroke="#000" stroke-width="1.5" vector-effect="non-scaling-stroke"/>
 <path class="p" d="M520,310 L505,215 C515,203 535,197 545,200 L575,290 M520,310 C530,330 555,325 575,295"/>
 <path class="p" d="M570,550 L555,455 C565,443 585,438 595,445 L622,520 M570,550 C580,572 605,565 625,530"/>
 <path class="p" d="M612,790 L600,700 C610,688 630,683 640,690 L662,770 M612,790 C622,812 648,805 665,775"/>
 <path class="p" d="M650,1030 L640,940 C650,928 668,924 675,930 L692,1005 M650,1030 C660,1052 682,1045 695,1012"/>
</g>
<!-- 26_27.svg -->
<path class="p" d="M1300,706.7 L1355,680 L1380,678.3 L1381.7,700 L1343.3,728.3 L1301.7,736.7 Z"/>
<g transform="translate(1270,770) scale(0.1866667)">
 <!-- outline -->
 <path class="p" d="M245,150 C260,135 275,128 290,128 L310,135 L525,222 L500,240 L440,268 C410,280 385,295 365,320 C355,340 355,370 365,400 L385,480 L420,620 L450,780 L480,950 L510,1120 L530,1280 L545,1430 L530,1450 L480,1445 L470,1420 L325,1375 L290,1200 L200,800 L130,450 L108,330 C105,310 108,300 112,295 L150,250 L210,200 Z"/>
 <path class="p" d="M128,312 L150,455 L218,800 L308,1195 L345,1385"/>
 <!-- ridge -->
 <path class="p" d="M525,222 C470,235 420,260 380,290 C340,320 300,350 280,385 L300,500 L370,900 L440,1250 L470,1420"/>
 <!-- small slots -->
 <path class="p" d="M140,325 C148,318 158,316 165,318 L178,375 C170,380 162,382 155,382 Z M350,1300 C358,1293 368,1291 375,1293 L388,1345 C380,1350 370,1352 362,1352 Z"/>
 <!-- left slots -->
 <path class="p" d="M275,385 L180,400 C165,405 158,412 158,425 L185,535 C188,545 195,548 205,545 L290,520 M272,400 L190,414 C178,418 173,425 174,435 L197,525 C200,532 205,534 212,532 L292,508"/>
 <path class="p" d="M320,620 L230,640 C215,645 208,652 208,665 L235,765 C238,775 245,778 255,775 L338,748 M318,635 L240,654 C228,658 223,665 224,675 L247,755 C250,762 255,764 262,762 L340,735"/>
 <path class="p" d="M365,860 L280,880 C265,885 258,892 258,905 L285,1010 C288,1020 295,1023 305,1020 L388,988 M363,875 L290,894 C278,898 273,905 274,915 L297,1000 C300,1007 305,1009 312,1007 L390,975"/>
 <path class="p" d="M415,1105 L335,1125 C320,1130 312,1137 312,1150 L340,1255 C343,1263 350,1266 360,1262 L438,1232 M413,1120 L345,1139 C333,1143 328,1150 329,1160 L352,1245 C355,1252 360,1254 367,1252 L440,1220"/>
 <!-- right notches -->
 <path class="p" d="M385,455 L345,485 C335,495 333,510 336,525 L355,595 C360,605 370,608 378,602 L405,578 M378,602 L385,575 L368,500 L395,480"/>
 <path class="p" d="M440,692 L398,720 C388,730 385,742 388,757 L405,825 C410,835 420,838 428,832 L455,805 M428,832 L434,805 L418,735 L445,712"/>
 <path class="p" d="M480,942 L448,965 C440,973 438,985 440,998 L455,1062 C460,1070 468,1073 476,1068 L497,1045 M476,1068 L480,1045 L466,980 L486,960"/>
 <path class="p" d="M510,1192 L483,1212 C476,1220 474,1232 476,1245 L490,1298 C494,1306 500,1308 507,1303 L525,1282 M507,1303 L510,1283 L498,1225 L515,1208"/>
</g>
<!-- AXIS -->
<path d="M63.0,783.9 L130.0,765.4 M140.0,762.7 L170.0,754.4 M181.0,751.4 L210.0,743.4 M219.0,740.9 L224.0,739.5 M254.0,731.3 L289.0,721.6 M296.0,719.7 L302.0,718.0 M390.7,693.6 L397.3,691.8 M423.3,684.6 L438.7,680.3 M448.7,677.6 L453.3,676.3 M487.0,667.0 L514.7,659.4 M530.7,655.0 L543.3,651.5 M645.0,623.5 L656.0,620.4 M704.0,607.2 L710.7,605.3 M718.0,603.3 L746.0,595.6 M796.0,581.8 L860.0,564.2 M876.0,559.8 L948.0,539.9 M960.0,536.6 L1060.0,509.0 M1077.0,504.4 L1182.0,475.4 M1196.0,471.5 L1290.0,445.6 M1298.0,443.4 L1367.0,424.4 M134.2,764.3 L135.8,763.8 M213.6,742.4 L215.2,742.0 M292.2,720.7 L293.8,720.3 M399.9,691.0 L401.5,690.6 M443.9,678.9 L445.5,678.5 M713.9,604.5 L715.5,604.0 M867.2,562.2 L868.8,561.8 M953.2,538.5 L954.8,538.0 M1067.2,507.1 L1068.8,506.6 M1189.2,473.4 L1190.8,473.0 M1293.2,444.8 L1294.8,444.3 M1370.2,423.5 L1371.8,423.1 M1374.9,422.2 L1376.5,421.8" fill="none" stroke="#000" stroke-width="1.7" stroke-linecap="butt"/>

<!-- LABELS -->
<text transform="translate(427.0,30.7) scale(0.43,1)" class="lb">A</text>
<text transform="translate(437.6,27.1) scale(0.544,1)" class="lb">–</text>
<text transform="translate(447.3,30.7) scale(0.585,1)" class="lb">19</text>
<polyline class="ld" points="420.7,45.0 465.5,45.0 478.7,80.5"/>
<text transform="translate(571.0,58.5) scale(0.43,1)" class="lb">A</text>
<text transform="translate(581.6,54.9) scale(0.544,1)" class="lb">–</text>
<text transform="translate(591.3,58.5) scale(0.585,1)" class="lb">20</text>
<polyline class="ld" points="565.5,74.0 610.0,74.0 620.7,129.3"/>
<text transform="translate(1019.7,84.6) scale(0.43,1)" class="lb">A</text>
<text transform="translate(1030.3,81.0) scale(0.544,1)" class="lb">–</text>
<text transform="translate(1040.0,84.6) scale(0.585,1)" class="lb">21</text>
<polyline class="ld" points="1019.0,94.0 1063.6,94.0 1078.0,122.0"/>
<text transform="translate(1040.3,300.5) scale(0.43,1)" class="lb">A</text>
<text transform="translate(1050.9,296.9) scale(0.544,1)" class="lb">–</text>
<text transform="translate(1060.6,300.5) scale(0.585,1)" class="lb">22</text>
<polyline class="ld" points="1036.0,311.0 1080.0,311.0 1096.7,345.0"/>
<text transform="translate(1336.4,339.3) scale(0.43,1)" class="lb">A</text>
<text transform="translate(1347.0,335.7) scale(0.544,1)" class="lb">–</text>
<text transform="translate(1356.7,339.3) scale(0.585,1)" class="lb">18</text>
<polyline class="ld" points="1380.0,351.0 1335.0,351.0 1326.7,413.3"/>
<text transform="translate(1221.4,376.0) scale(0.43,1)" class="lb">A</text>
<text transform="translate(1232.0,372.4) scale(0.544,1)" class="lb">–</text>
<text transform="translate(1241.7,376.0) scale(0.585,1)" class="lb">17</text>
<polyline class="ld" points="1260.7,385.0 1215.0,385.0 1207.3,446.7"/>
<circle cx="1207.3" cy="446.7" r="2" fill="#000"/>
<text transform="translate(1019.7,426.0) scale(0.43,1)" class="lb">A</text>
<text transform="translate(1030.3,422.4) scale(0.544,1)" class="lb">–</text>
<text transform="translate(1040.0,426.0) scale(0.585,1)" class="lb">16</text>
<polyline class="ld" points="1066.0,439.3 1021.7,439.3 1017.7,508.3"/>
<circle cx="1017.7" cy="508.3" r="2" fill="#000"/>
<text transform="translate(938.2,460.0) scale(0.43,1)" class="lb">A</text>
<text transform="translate(948.8,456.4) scale(0.544,1)" class="lb">–</text>
<text transform="translate(958.5,460.0) scale(0.585,1)" class="lb">15</text>
<polyline class="ld" points="980.0,471.2 934.8,471.2 930.0,532.0"/>
<circle cx="930.0" cy="532.0" r="2" fill="#000"/>
<text transform="translate(812.7,412.5) scale(0.43,1)" class="lb">A</text>
<text transform="translate(823.3,408.9) scale(0.544,1)" class="lb">–</text>
<text transform="translate(833.0,412.5) scale(0.585,1)" class="lb">14</text>
<polyline class="ld" points="852.7,423.5 807.3,423.5 803.3,476.0"/>
<text transform="translate(736.2,412.0) scale(0.43,1)" class="lb">A</text>
<text transform="translate(746.8,408.4) scale(0.544,1)" class="lb">–</text>
<text transform="translate(756.5,412.0) scale(0.585,1)" class="lb">13</text>
<polyline class="ld" points="778.0,423.5 732.8,423.5 722.7,469.3"/>
<text transform="translate(711.0,524.0) scale(0.43,1)" class="lb">A</text>
<text transform="translate(721.6,520.4) scale(0.544,1)" class="lb">–</text>
<text transform="translate(731.3,524.0) scale(0.585,1)" class="lb">12</text>
<polyline class="ld" points="749.5,531.7 704.3,531.7 696.7,601.3"/>
<text transform="translate(627.7,546.7) scale(0.43,1)" class="lb">A</text>
<text transform="translate(638.3,543.1) scale(0.544,1)" class="lb">–</text>
<text transform="translate(648.0,546.7) scale(0.585,1)" class="lb">11</text>
<polyline class="ld" points="668.0,552.3 624.0,552.3 617.3,630.7"/>
<text transform="translate(536.2,573.0) scale(0.43,1)" class="lb">A</text>
<text transform="translate(546.8,569.4) scale(0.544,1)" class="lb">–</text>
<text transform="translate(556.5,573.0) scale(0.585,1)" class="lb">10</text>
<polyline class="ld" points="574.7,580.0 529.7,580.0 522.7,654.7"/>
<text transform="translate(487.7,581.0) scale(0.43,1)" class="lb">A</text>
<text transform="translate(498.3,577.4) scale(0.544,1)" class="lb">–</text>
<text transform="translate(508.0,581.0) scale(0.585,1)" class="lb">9</text>
<polyline class="ld" points="522.7,590.7 478.0,590.7 469.3,660.0"/>
<text transform="translate(424.5,602.7) scale(0.43,1)" class="lb">A</text>
<text transform="translate(435.1,599.1) scale(0.544,1)" class="lb">–</text>
<text transform="translate(444.8,602.7) scale(0.585,1)" class="lb">8</text>
<polyline class="ld" points="461.3,610.0 416.0,610.0 412.0,686.7"/>
<text transform="translate(351.7,624.8) scale(0.43,1)" class="lb">A</text>
<text transform="translate(362.3,621.2) scale(0.544,1)" class="lb">–</text>
<text transform="translate(372.0,624.8) scale(0.585,1)" class="lb">7</text>
<polyline class="ld" points="385.3,633.3 340.5,633.3 331.5,706.7"/>
<text transform="translate(279.2,645.3) scale(0.43,1)" class="lb">A</text>
<text transform="translate(289.8,641.7) scale(0.544,1)" class="lb">–</text>
<text transform="translate(299.5,645.3) scale(0.585,1)" class="lb">6</text>
<polyline class="ld" points="314.7,654.0 268.8,654.0 264.0,722.7"/>
<circle cx="264.0" cy="722.7" r="2" fill="#000"/>
<text transform="translate(207.7,664.0) scale(0.43,1)" class="lb">A</text>
<text transform="translate(218.3,660.4) scale(0.544,1)" class="lb">–</text>
<text transform="translate(228.0,664.0) scale(0.585,1)" class="lb">5</text>
<polyline class="ld" points="241.3,669.3 196.8,669.3 195.2,719.0"/>
<text transform="translate(131.7,681.3) scale(0.43,1)" class="lb">A</text>
<text transform="translate(142.3,677.7) scale(0.544,1)" class="lb">–</text>
<text transform="translate(152.0,681.3) scale(0.585,1)" class="lb">4</text>
<polyline class="ld" points="168.0,690.7 123.2,690.7 117.3,746.7"/>
<text transform="translate(1296.4,586.7) scale(0.43,1)" class="lb">A</text>
<text transform="translate(1307.0,583.1) scale(0.544,1)" class="lb">–</text>
<text transform="translate(1316.7,586.7) scale(0.585,1)" class="lb">25</text>
<polyline class="ld" points="1339.3,598.3 1293.3,598.3 1265.0,628.3"/>
<text transform="translate(1387.0,650.0) scale(0.43,1)" class="lb">A</text>
<text transform="translate(1397.6,646.4) scale(0.544,1)" class="lb">–</text>
<text transform="translate(1407.3,650.0) scale(0.585,1)" class="lb">26</text>
<polyline class="ld" points="1427.3,657.3 1382.7,657.3 1363.3,690.7"/>
<circle cx="1363.3" cy="690.7" r="2" fill="#000"/>
<text transform="translate(1366.4,774.0) scale(0.43,1)" class="lb">A</text>
<text transform="translate(1377.0,770.4) scale(0.544,1)" class="lb">–</text>
<text transform="translate(1386.7,774.0) scale(0.585,1)" class="lb">27</text>
<polyline class="ld" points="1409.3,786.7 1363.3,786.7 1351.7,821.7"/>
<text transform="translate(900.4,768.3) scale(0.43,1)" class="lb">A</text>
<text transform="translate(911.0,764.7) scale(0.544,1)" class="lb">–</text>
<text transform="translate(920.7,768.3) scale(0.585,1)" class="lb">23</text>
<polyline class="ld" points="896.7,778.3 940.7,778.3 954.0,803.3"/>
<text transform="translate(1023.0,768.3) scale(0.43,1)" class="lb">A</text>
<text transform="translate(1033.6,764.7) scale(0.544,1)" class="lb">–</text>
<text transform="translate(1043.3,768.3) scale(0.585,1)" class="lb">24</text>
<polyline class="ld" points="1019.3,779.3 1063.3,779.3 1075.0,800.0"/>
<text transform="translate(686.4,804.0) scale(0.43,1)" class="lb">A</text>
<text transform="translate(697.0,800.4) scale(0.544,1)" class="lb">–</text>
<text transform="translate(706.7,804.0) scale(0.585,1)" class="lb">3</text>
<polyline class="ld" points="679.3,811.0 724.0,811.0 756.0,852.3"/>
<circle cx="756.0" cy="852.3" r="2" fill="#000"/>
<text transform="translate(722.4,956.0) scale(0.43,1)" class="lb">A</text>
<text transform="translate(733.0,952.4) scale(0.544,1)" class="lb">–</text>
<text transform="translate(742.7,956.0) scale(0.585,1)" class="lb">2</text>
<polyline class="ld" points="714.0,964.0 759.3,964.0 793.3,1001.7"/>
<circle cx="793.3" cy="1001.7" r="2" fill="#000"/>
<text transform="translate(627.7,1158.0) scale(0.43,1)" class="lb">A</text>
<text transform="translate(638.3,1154.4) scale(0.544,1)" class="lb">–</text>
<text transform="translate(648.0,1158.0) scale(0.585,1)" class="lb">1</text>
<polyline class="ld" points="634.0,1164.0 678.7,1164.0 719.5,1222.0"/>
<circle cx="719.5" cy="1222.0" r="2" fill="#000"/>
<!-- FOOTER -->
<line x1="0" y1="1371.65" x2="1500" y2="1371.65" stroke="#000" stroke-width="1.3"/>
<rect x="31.2" y="1406.2" width="215.1" height="59.4" fill="#807f84"/>
<!-- diamond -->
<g transform="translate(30,1400) scale(0.1466667)">
 <path d="M248,116 L380,246 L248,378 L116,246 Z" fill="#fff"/>
 <rect x="96" y="176" width="90" height="142" fill="#807f84"/>
 <path d="M100,196 L262,196 C300,196 304,246 280,246 C304,246 300,298 262,298 L100,298 Z" fill="#807f84"/>
 <rect x="113" y="206" width="160" height="23" rx="11.5" fill="#fff"/>
 <rect x="113" y="235" width="150" height="23" rx="11.5" fill="#fff"/>
 <rect x="113" y="263" width="160" height="23" rx="11.5" fill="#fff"/>
</g>
<!-- ZUBR letters -->
<g transform="translate(90,1415) scale(0.0966667)" fill="#fff">
 <!-- Z -->
 <path d="M85,75 L305,75 Q355,75 355,125 L355,300 Q355,350 305,350 L85,350 L40,295 L40,280 L255,280 Q268,280 268,262 Q268,245 255,245 L145,245 L145,185 L255,185 Q268,185 268,167 Q268,150 255,150 L40,150 L40,130 Z"/>
 <!-- U -->
 <path d="M390,75 L475,75 L475,200 Q475,215 490,215 L632,215 L632,75 L715,75 L715,300 Q715,350 665,350 L405,350 Q392,350 392,335 L392,296 L632,296 L632,286 L450,286 Q390,286 390,226 Z"/>
 <!-- B -->
 <path fill-rule="evenodd" d="M765,75 L1075,75 Q1085,75 1085,85 L1085,150 L850,150 L850,185 L1035,185 Q1085,185 1085,235 L1085,300 Q1085,350 1035,350 L765,350 Z M850,245 L850,282 L990,282 Q1002,282 1002,264 Q1002,245 990,245 Z"/>
 <!-- R -->
 <path fill-rule="evenodd" d="M1130,75 L1395,75 Q1455,75 1455,135 L1455,200 Q1455,260 1395,260 L1220,260 L1220,350 L1130,350 Z M1220,150 L1220,187 L1358,187 Q1372,187 1372,168 Q1372,150 1358,150 Z"/>
</g>
<text class="ft1" x="289.2" y="1450.7" textLength="151.6" lengthAdjust="spacingAndGlyphs">КПЭ-650.</text>
<text class="ft2" x="448.5" y="1450.7" textLength="88.0" lengthAdjust="spacingAndGlyphs">Схема</text>
<text class="ft2" x="546.5" y="1450.7" textLength="39.0" lengthAdjust="spacingAndGlyphs">1-1</text>
<text class="ft2" x="598.5" y="1450.7" textLength="207.4" lengthAdjust="spacingAndGlyphs">(Схема-состав.</text>
<text class="ft2" x="814.9" y="1450.7" textLength="178.2" lengthAdjust="spacingAndGlyphs">Краскопульт</text>
<text class="ft2" x="1002.1" y="1450.7" textLength="227.7" lengthAdjust="spacingAndGlyphs">электрический)</text>

</svg>
</body></html>
